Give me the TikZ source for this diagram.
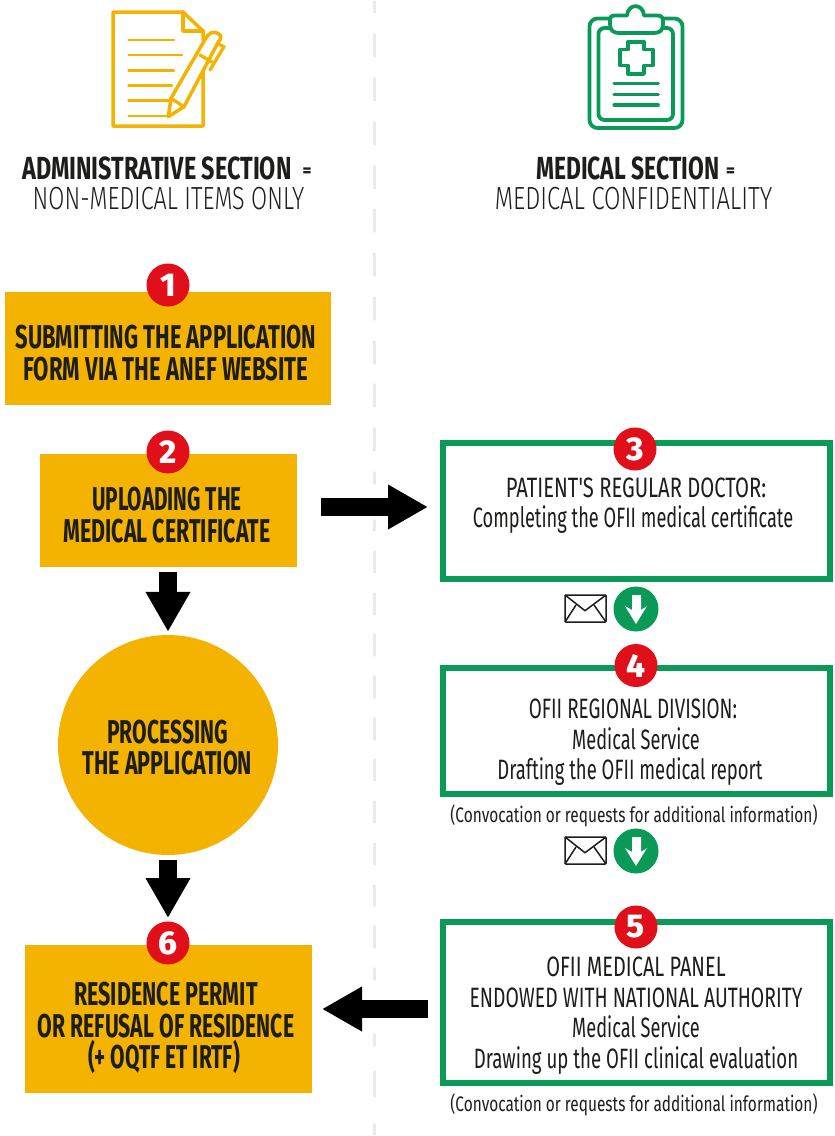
\documentclass[tikz,border=0pt]{standalone}
\usepackage{graphicx}
\usepackage{fontspec}
\usetikzlibrary{arrows.meta,calc}
\setmainfont{Fira Sans}
\newfontfamily\condB{Fira Sans}[FakeStretch=0.676,UprightFont=* Bold,BoldFont=* Bold]
\newfontfamily\condH{Fira Sans}[FakeStretch=0.68,UprightFont=* Bold,BoldFont=* Bold]
\newfontfamily\condR{Fira Sans}[FakeStretch=0.68]
\newfontfamily\condL{Fira Sans}[FakeStretch=0.74,UprightFont=* Light]
\newfontfamily\digitf{Fira Sans}[UprightFont=* ExtraBold]
\definecolor{ygold}{HTML}{F3B300}
\definecolor{mgreen}{HTML}{0A9A58}
\definecolor{bred}{HTML}{E10F19}
\definecolor{ink}{HTML}{1D1D1B}
\definecolor{divgray}{HTML}{EAEAEA}
\newcommand{\sx}[2]{\scalebox{#1}[1]{#2}}
\tikzset{
  ybox/.style={fill=ygold,draw=none,inner sep=0,outer sep=0},
  gbox/.style={draw=mgreen,line width=6pt,fill=white,inner sep=0,outer sep=0},
  badge/.style={circle,fill=bred,text=white,inner sep=0,minimum size=43pt,font=\digitf\fontsize{33}{33}\selectfont},
  ttl/.style={align=center,text=ink,inner sep=0,font=\condB\fontsize{33}{31.5}\selectfont},
  gtxt/.style={align=center,text=ink,inner sep=0,font=\condR\fontsize{28}{30.5}\selectfont},
  captxt/.style={align=center,text=ink,inner sep=0,font=\condR\fontsize{21}{24}\selectfont},
  hdb/.style={text=ink,inner sep=0,font=\condH\fontsize{32}{32}\selectfont},
  hdl/.style={text=ink,inner sep=0,font=\condL\fontsize{32}{32}\selectfont},
  blockarrow/.style={line width=18pt,black,-{Triangle[length=40pt,width=42pt]}},
  iconY/.style={draw=ygold,line cap=round,line join=round},
  iconG/.style={draw=mgreen,line cap=round,line join=round},
  envelope/.style={draw=ink,line width=1.5pt,line join=round},
  roundgreen/.style={circle,fill=mgreen,minimum size=45pt,inner sep=0},
}
\newcommand{\sepeq}{\raisebox{2.5pt}{\digitf\fontsize{17}{17}\selectfont=}}
\newcommand{\envel}[1]{%
  \begin{scope}[shift={(0,#1)}]
    \draw[envelope,rounded corners=1pt] (565,595) rectangle (606,622);
    \draw[envelope] (565,595) -- (585,610.7) -- (606,595);
    \draw[envelope] (565,622) -- (576,605);
    \draw[envelope] (606,622) -- (594,605);
  \end{scope}}
\newcommand{\wdown}[1]{%
  \fill[white,shift={(0,#1)}] (632,595) -- (641,595) -- (641,610) -- (647,606) -- (636,624) -- (625,606) -- (632,610) -- cycle;}
\begin{document}
\begin{tikzpicture}[x=1pt,y=-1pt]
\useasboundingbox (0,0) rectangle (835,1136);
\fill[white] (0,0) rectangle (835,1136);
% divider
\foreach \ya/\yb in {0/14,33/58,77/102,121/146,165/190,208/233,252/277,296/321,340/365,383/408,427/452,471/485,519/532,550/574,592/616,633/657,675/699,717/741,758/782,800/824,842/866,884/907,925/949,967/981,1033/1047,1070/1098,1123/1136}
  \draw[divgray,line width=3.5pt,line cap=round] (374.5,\ya+1.75) -- (374.5,\yb-1.75);

% document icon
\draw[iconY,line width=3.5pt] (203,40) -- (203,31) -- (183,12) -- (113,12) -- (113,126) -- (203,126) -- (203,70);
\draw[iconY,line width=3.5pt] (183,12) -- (183,31) -- (203,31);
\foreach \yy/\xe in {40/174,55/182,70.5/174,85.7/172,100.7/170,116/169}
  \draw[iconY,line width=2.5pt] (128.5,\yy) -- (\xe,\yy);
\filldraw[iconY,fill=white,line width=3.5pt] (168.3,116.7) -- (171,98.3) -- (205,39.5) .. controls (208,33) and (214,30) .. (219,34) .. controls (222,36) and (221,39) .. (218.3,42) -- (184,106.7) -- cycle;
\draw[iconY,line width=3.3pt] (171,98.3) -- (184,106.7);
\draw[iconY,line width=3.3pt] (200,55) -- (212,62);
\draw[iconY,line width=3.3pt] (218,44) -- (224,46.7) -- (210,70);
% clipboard icon
\draw[iconG,line width=3.8pt,rounded corners=8pt] (589.5,18.5) rectangle (682.5,128);
\draw[iconG,line width=3.8pt,rounded corners=6pt] (598.5,28) rectangle (673,120);
\filldraw[iconG,fill=white,line width=3.8pt] (615,15.5) -- (627,15.5) .. controls (628,3) and (643,3) .. (644,15.5) -- (657,15.5) .. controls (661,15.5) and (663,17) .. (663,21) -- (663,24) .. controls (663,30) and (660,33) .. (654,33) -- (619,33) .. controls (613,33) and (610,30) .. (610,24) -- (610,21) .. controls (610,17) and (611,15.5) .. (615,15.5) -- cycle;
\draw[iconG,line width=3.8pt] (628.3,41.7) -- (644,41.7) -- (644,49.5) -- (652.7,49.5) -- (652.7,65.5) -- (644,65.5) -- (644,74) -- (628.3,74) -- (628.3,65.5) -- (620,65.5) -- (620,49.5) -- (628.3,49.5) -- cycle;
\foreach \yy in {83.5,94.3,105}
  \draw[iconG,line width=3.2pt] (614,\yy) -- (658.3,\yy);

% headers
\node[hdb,anchor=west] (h1) at (22,168) {\sx{1.075}{ADMINISTRATIVE SECTION}\hspace{11pt}\sepeq};
\node[hdl] (h2) at (168.5,199) {\sx{0.985}{NON-MEDICAL ITEMS ONLY}};
\node[hdb,anchor=west] (h3) at (536,168) {\sx{1.05}{MEDICAL SECTION}\hspace{7pt}\sepeq};
\node[hdl] (h4) at (633.5,199) {\sx{1.005}{MEDICAL CONFIDENTIALITY}};

% boxes
\node[ybox,minimum width=326pt,minimum height=113pt] (b1) at (168,348.5) {};
\node[ybox,minimum width=257pt,minimum height=113pt] (b2) at (168.5,510.5) {};
\node[circle,fill=ygold,inner sep=0,minimum size=220pt] (c) at (168,745) {};
\node[ybox,minimum width=287pt,minimum height=148pt] (b6) at (168.5,1019) {};
\node[gbox,minimum width=387pt,minimum height=136pt] (g3) at (636.5,511) {};
\node[gbox,minimum width=387pt,minimum height=126pt] (g4) at (636.5,731) {};
\node[gbox,minimum width=387pt,minimum height=161pt] (g5) at (636.5,1002.5) {};

% texts
\node[ttl] (t1) at (166,353) {\sx{0.984}{SUBMITTING THE APPLICATION}\\\sx{0.993}{FORM VIA THE ANEF WEBSITE}};
\node[ttl] (t2) at (167,515) {\sx{0.93}{UPLOADING THE}\\\sx{0.96}{MEDICAL CERTIFICATE}};
\node[ttl] (tc) at (167.5,747.5) {\sx{0.945}{PROCESSING}\\\sx{0.966}{THE APPLICATION}};
\node[ttl] (t6) at (166,1028) {\sx{0.963}{RESIDENCE PERMIT}\\\sx{0.952}{OR REFUSAL OF RESIDENCE}\\\sx{0.94}{(+ OQTF ET IRTF)}\hspace*{4pt}};
\node[gtxt] (t3) at (633,505.5) {\hspace*{6pt}\sx{1.06}{PATIENT'S REGULAR DOCTOR:}\\\sx{0.958}{Completing the OFII medical certificate}};
\node[gtxt] (t4) at (633,742.5) {\sx{0.99}{OFII REGIONAL DIVISION:}\\\hspace*{6pt}\sx{0.955}{Medical Service}\\\sx{0.97}{Drafting the OFII medical report}\hspace*{6pt}};
\node[gtxt] (t5) at (636,1015.5) {\sx{1.047}{OFII MEDICAL PANEL}\\\sx{1.015}{ENDOWED WITH NATIONAL AUTHORITY}\\\sx{0.955}{Medical Service}\\\sx{0.979}{Drawing up the OFII clinical evaluation}};
\node[captxt] (cap1) at (634,816) {\sx{1.08}{(Convocation or requests for additional information)}};
\node[captxt] (cap2) at (634,1105) {\sx{1.08}{(Convocation or requests for additional information)}};

% badges
\node[badge] (n1) at (168,285) {1};
\node[badge] (n2) at (168,452) {2};
\node[badge] (n3) at (635,449) {3};
\node[badge] (n4) at (636,665.5) {4};
\node[badge] (n5) at (636,927) {5};
\node[badge] (n6) at (168,943) {6};

% block arrows
\draw[blockarrow] ([shift={(24,-3.5)}]b2.east) -- ([shift={(-15,-4)}]g3.west);
\draw[blockarrow] ([shift={(-.5,5)}]b2.south) -- ([shift={(0,-3)}]c.north);
\draw[blockarrow] ([shift={(0,5)}]c.south) -- ([shift={(-.5,-27)}]b6.north);
\draw[blockarrow] ([shift={(-15,6.5)}]g5.west) -- ([shift={(10,-10)}]b6.east);

% mail + green arrows
\envel{0}
\node[roundgreen] (m1) at (636,609) {};
\wdown{0}
\envel{242}
\node[roundgreen] (m2) at (636,851) {};
\wdown{242}
\end{tikzpicture}
\end{document}
